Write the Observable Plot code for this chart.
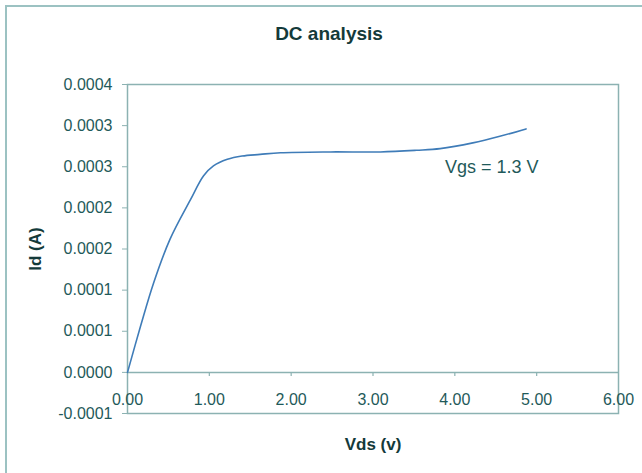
<!DOCTYPE html>
<html>
<head>
<meta charset="utf-8">
<script src="https://cdn.jsdelivr.net/npm/d3@7"></script>
<script src="https://cdn.jsdelivr.net/npm/@observablehq/plot@0.6"></script>
<style>
  html, body { margin: 0; padding: 0; background: #fff; }
  #wrap { position: relative; width: 642px; height: 473px; overflow: hidden; }
  #outer { position: absolute; left: 5px; top: 5px; width: 660px; height: 466px;
           border-left: 2px solid #9cc2c2; border-top: 2px solid #9cc2c2; border-bottom: 1px solid #f2dada;
           pointer-events: none; }
  #wrap svg { position: absolute; left: 0; top: 0; }
</style>
</head>
<body>
<div id="wrap"><div id="outer"></div></div>
<script>
// Data
const vds = [0, 0.16, 0.32, 0.52, 0.77, 0.93, 1.05, 1.22, 1.40, 1.62, 1.87, 2.48, 3.09, 3.53, 3.82, 4.22, 4.55, 4.87];
const id  = [0, 0.0000563, 0.000109, 0.000162, 0.000210, 0.000239, 0.000251, 0.000259, 0.000263, 0.000265, 0.000267, 0.000268, 0.000268, 0.000270, 0.000272, 0.000279, 0.000287, 0.000296];

const xTicks  = [1, 2, 3, 4, 5, 6, 0];
const xLabels = ["1.00", "2.00", "3.00", "4.00", "5.00", "6.00", "0.00"];
const yTicks  = [-0.00005, 0, 0.00005, 0.0001, 0.00015, 0.0002, 0.00025, 0.0003, 0.00035];
const yLabels = ["-0.0001", "0.0000", "0.0001", "0.0001", "0.0002", "0.0002", "0.0003", "0.0003", "0.0004"];

const titleText = "DC analysis";
const xTitle = "Vds (v)";
const yTitle = "Id (A)";
const annotation = [{x: 3.88, y: 0.00025, text: "Vgs = 1.3 V"}];

const points = vds.map((v, i) => ({vds: v, id: id[i]}));
const xTickData = xTicks.map((v, i) => ({v, label: xLabels[i]}));

const axisColor = "#8cb2b2";
const textColor = "#1f5a5a";
const font = "'Liberation Sans', Arial, sans-serif";

const chart = Plot.plot({
  width: 642,
  height: 473,
  marginLeft: 127,
  marginRight: 24,
  marginTop: 84,
  marginBottom: 60,
  style: {fontFamily: font, fontSize: "16px", color: textColor, background: "transparent", overflow: "visible"},
  x: {domain: [0, 6], axis: null},
  y: {domain: [-0.00005, 0.00035], axis: null},
  marks: [
    Plot.frame({stroke: axisColor, strokeWidth: 1.5}),
    Plot.ruleY([0], {stroke: axisColor, strokeWidth: 1.5}),
    Plot.ruleX(xTickData.filter(d => d.v !== 0 && d.v !== 6), {x: "v", y1: 0, y2: 0, insetBottom: -4, stroke: axisColor, strokeWidth: 1.2}),
    Plot.text(xTickData, {x: "v", y: 0, text: "label", dy: 27, fontSize: 16, fill: textColor}),
    Plot.axisY({
      ticks: yTicks,
      tickFormat: d => yLabels[yTicks.findIndex(t => Math.abs(t - d) < 1e-12)],
      tickSize: 5,
      tickPadding: 10,
      label: null,
      stroke: axisColor,
      fill: textColor,
      fontSize: 16
    }),
    Plot.line(points, {x: "vds", y: "id", stroke: "#3f7cb8", strokeWidth: 1.6, curve: "catmull-rom"}),
    Plot.text(annotation, {x: "x", y: "y", text: "text", textAnchor: "start", fontSize: 18, fill: textColor}),
    Plot.text([titleText], {frameAnchor: "top", text: d => d, lineAnchor: "middle", textAnchor: "middle", dy: -51, dx: -44, fontSize: 19, fontWeight: "bold", fill: "#143a3a"}),
    Plot.text([xTitle], {frameAnchor: "bottom", text: d => d, lineAnchor: "middle", textAnchor: "middle", dy: 31, fontSize: 17, fontWeight: "bold", fill: "#143a3a"}),
    Plot.text([yTitle], {frameAnchor: "left", text: d => d, lineAnchor: "middle", textAnchor: "middle", dx: -92, rotate: -90, fontSize: 17, fontWeight: "bold", fill: "#143a3a"})
  ]
});
document.getElementById("wrap").prepend(chart);
</script>
</body>
</html>
